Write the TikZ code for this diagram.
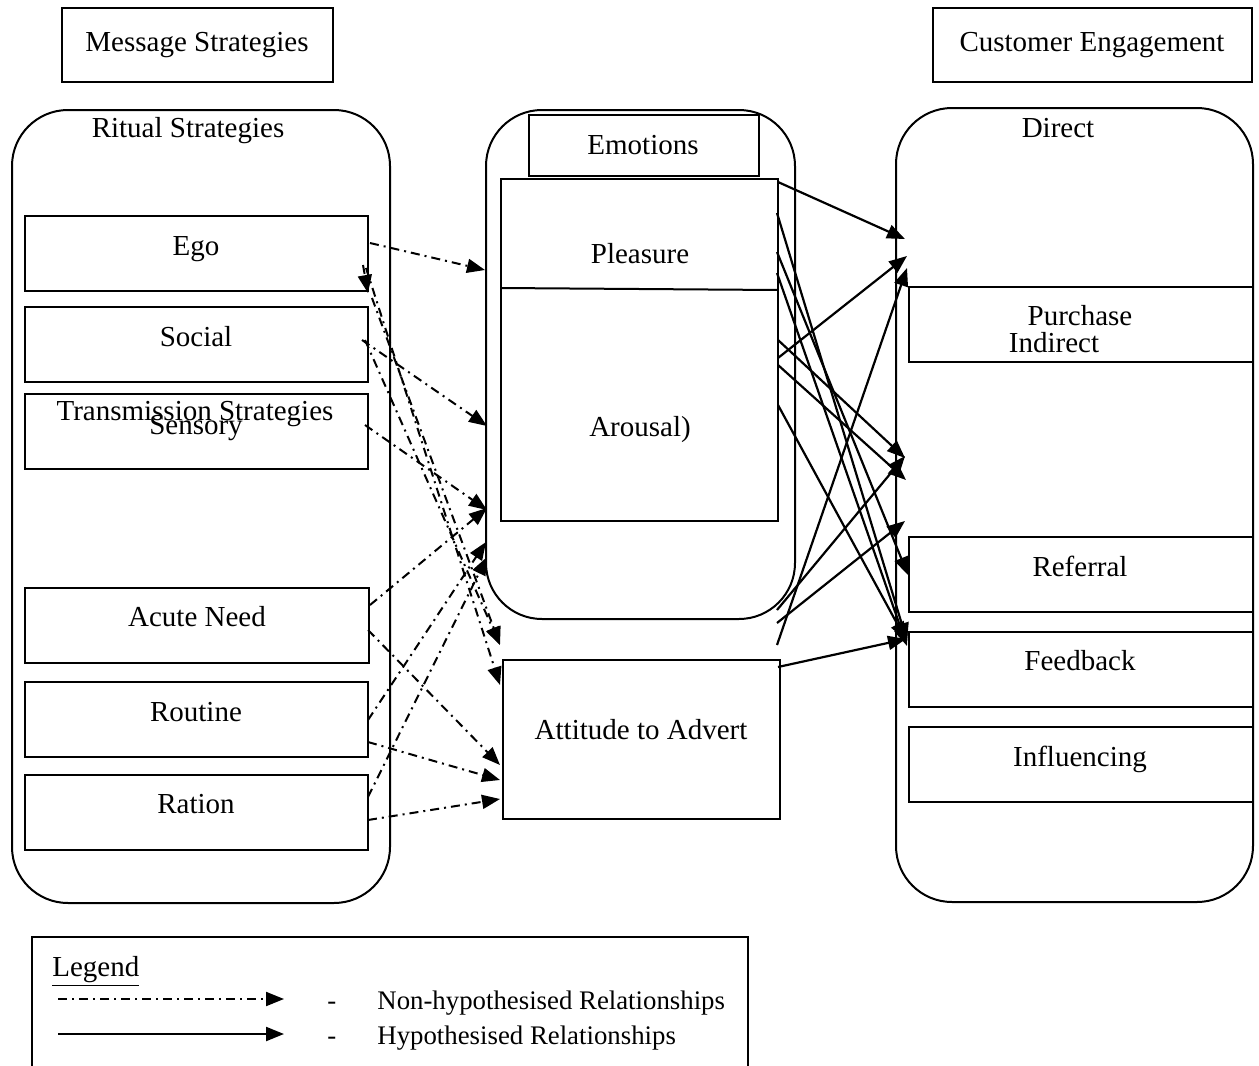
\documentclass[tikz,border=0pt]{standalone}
\usepackage{fontspec}
\setmainfont{Liberation Serif}
\usetikzlibrary{arrows.meta}
\begin{document}
\begin{tikzpicture}[x=0.5pt,y=-0.5pt,
  box/.style={draw,line width=1pt,anchor=north west,inner sep=0pt,outer sep=0pt},
  cont/.style={box,rounded corners=28pt},
  lbl/.style={anchor=base,inner sep=0pt,font=\fontsize{14.5}{17}\selectfont},
  lgd/.style={anchor=base west,inner sep=0pt,font=\fontsize{13.4}{16}\selectfont},
  tip/.style={-{Triangle[length=9pt,width=7pt]}},
  nh/.style={tip,line width=1pt,dash pattern=on 4.5pt off 2.5pt on 1pt off 2.5pt},
  hy/.style={tip,line width=1.1pt}]
\useasboundingbox (0,0) rectangle (1259,1066);
% header boxes
\node[box,minimum width=135.5pt,minimum height=37pt] (msgbox) at (62,8) {};
\node[lbl] (msg) at (197,51) {Message Strategies};
\node[box,minimum width=159.5pt,minimum height=37pt] (cebox) at (933,8) {};
\node[lbl] (ce) at (1092,51) {Customer Engagement};
% left container
\node[cont,minimum width=189pt,minimum height=396.5pt] (leftc) at (12,110) {};
\node[lbl] (ritual) at (188,137) {Ritual Strategies};
\node[box,minimum width=171.5pt,minimum height=37.5pt] (ego) at (25,216) {};
\node[lbl] (egot) at (196,255) {Ego};
\node[box,minimum width=171.5pt,minimum height=37.5pt] (social) at (25,307) {};
\node[lbl] (socialt) at (196,346) {Social};
\node[box,minimum width=171.5pt,minimum height=37.5pt] (sensory) at (25,394) {};
\node[lbl] (trans) at (195,420) {Transmission Strategies};
\node[lbl] (sensoryt) at (196,434) {Sensory};
\node[box,minimum width=172pt,minimum height=37.5pt] (acute) at (25,588) {};
\node[lbl] (acutet) at (197,626) {Acute Need};
\node[box,minimum width=171.5pt,minimum height=37.5pt] (routine) at (25,682) {};
\node[lbl] (routinet) at (196,721) {Routine};
\node[box,minimum width=171.5pt,minimum height=37.5pt] (ration) at (25,775) {};
\node[lbl] (rationt) at (196,813) {Ration};
% middle
\node[cont,minimum width=154.5pt,minimum height=254.5pt] (midc) at (486,110) {};
\node[box,minimum width=115pt,minimum height=30.5pt] (emo) at (529,115) {};
\node[lbl] (emot) at (643,154) {Emotions};
\node[box,minimum width=138.5pt,minimum height=171pt] (pa) at (501,179) {};
\coordinate (divl) at (501,288);
\coordinate (divr) at (778,290);
\draw[line width=1pt] (divl) -- (divr);
\node[lbl] (pleat) at (640,263) {Pleasure};
\node[lbl] (arot) at (640,436) {Arousal)};
\node[box,minimum width=138.5pt,minimum height=79.5pt] (att) at (503,660) {};
\node[lbl] (attt) at (641,739) {Attitude to Advert};
% right container
\node[cont,minimum width=178.5pt,minimum height=397pt] (rightc) at (896,108) {};
\node[lbl] (direct) at (1058,137) {Direct};
\node[box,minimum width=172pt,minimum height=37.5pt] (purch) at (909,287) {};
\node[lbl] (purcht) at (1080,325) {Purchase};
\node[lbl] (indt) at (1054,352) {Indirect};
\node[box,minimum width=172pt,minimum height=37.5pt] (refer) at (909,537) {};
\node[lbl] (refert) at (1080,576) {Referral};
\node[box,minimum width=172pt,minimum height=37.5pt] (feed) at (909,632) {};
\node[lbl] (feedt) at (1080,670) {Feedback};
\node[box,minimum width=172pt,minimum height=37.5pt] (infl) at (909,727) {};
\node[lbl] (inflt) at (1080,766) {Influencing};
% endpoints: left side
\coordinate (egoA) at (370,243);   \coordinate (pleIn) at (485,270);
\coordinate (socA) at (362,340);   \coordinate (aroIn) at (487,426);
\coordinate (senA) at (365,425);   \coordinate (emoIn1) at (487,510);
\coordinate (acuA) at (370,605);   \coordinate (emoIn2) at (487,508);
\coordinate (rouA) at (368,720);   \coordinate (emoIn3) at (486,542);
\coordinate (ratA) at (368,797);   \coordinate (emoIn4) at (487,557);
\coordinate (egoB) at (366,268);   \coordinate (attIn1) at (500,685);
\coordinate (egoC) at (372,298);   \coordinate (attIn2) at (500,645);
\coordinate (socB) at (365,340);
\coordinate (egoD) at (363,265);   \coordinate (egoE) at (368,293);
\coordinate (acuB) at (368,630);   \coordinate (attIn3) at (500,765);
\coordinate (rouB) at (368,742);   \coordinate (attIn4) at (500,780);
\coordinate (ratB) at (368,820);   \coordinate (attIn5) at (500,799);
\draw[nh] (egoA) -- (pleIn);
\draw[nh] (socA) -- (aroIn);
\draw[nh] (senA) -- (emoIn1);
\draw[nh] (acuA) -- (emoIn2);
\draw[nh] (rouA) -- (emoIn3);
\draw[nh] (ratA) -- (emoIn4);
\draw[nh] (egoB) -- (attIn1);
\draw[nh] (egoC) -- (attIn2);
\draw[nh] (socB) -- (attIn2);
\draw[nh] (egoD) -- (egoE);
\draw[nh] (acuB) -- (attIn3);
\draw[nh] (rouB) -- (attIn4);
\draw[nh] (ratB) -- (attIn5);
% endpoints: right side
\coordinate (p1) at (778,182);  \coordinate (dir1) at (905,239);
\coordinate (p2) at (777,213);  \coordinate (fb1) at (907,641);
\coordinate (p3) at (777,252);  \coordinate (rf1) at (908,575);
\coordinate (p4) at (777,273);  \coordinate (fb2) at (907,646);
\coordinate (a1) at (778,340);  \coordinate (ind1) at (905,458);
\coordinate (a2) at (778,358);  \coordinate (dir2) at (907,256);
\coordinate (a3) at (778,365);  \coordinate (ind2) at (906,480);
\coordinate (a4) at (778,405);  \coordinate (fb3) at (906,640);
\coordinate (e1) at (777,610);  \coordinate (ind3) at (905,456);
\coordinate (e2) at (777,623);  \coordinate (rf2) at (905,521);
\coordinate (t1) at (777,645);  \coordinate (dir3) at (907,268);
\coordinate (t2) at (778,667);  \coordinate (fb4) at (906,639);
\draw[hy] (p1) -- (dir1);
\draw[hy] (p2) -- (fb1);
\draw[hy] (p3) -- (rf1);
\draw[hy] (p4) -- (fb2);
\draw[hy] (a1) -- (ind1);
\draw[hy] (a2) -- (dir2);
\draw[hy] (a3) -- (ind2);
\draw[hy] (a4) -- (fb3);
\draw[hy] (e1) -- (ind3);
\draw[hy] (e2) -- (rf2);
\draw[hy] (t1) -- (dir3);
\draw[hy] (t2) -- (fb4);
% legend
\coordinate (lg1) at (748,1066); \coordinate (lg2) at (748,937);
\coordinate (lg3) at (32,937);   \coordinate (lg4) at (32,1066);
\draw[line width=0.6pt] (lg1) -- (lg2) -- (lg3) -- (lg4);
\node[lgd,font=\fontsize{14.5}{17}\selectfont] (legt) at (52,976) {\underline{Legend}};
\coordinate (l1a) at (58,999);  \coordinate (l1b) at (284,999);
\coordinate (l2a) at (58,1034); \coordinate (l2b) at (284,1034);
\draw[nh] (l1a) -- (l1b);
\draw[hy] (l2a) -- (l2b);
\node[lgd] (d1) at (327,1009) {-};
\node[lgd] (nht) at (377,1009) {Non-hypothesised Relationships};
\node[lgd] (d2) at (327,1044) {-};
\node[lgd] (hyt) at (377,1044) {Hypothesised Relationships};
\end{tikzpicture}
\end{document}
